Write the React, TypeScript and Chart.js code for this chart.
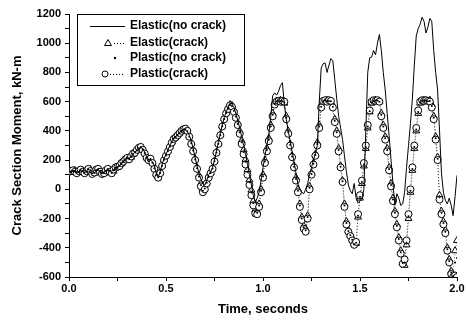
import React, { useEffect, useRef } from "react";
import { Chart, registerables } from "chart.js";

Chart.register(...registerables);

// Sampling step of the time axis (seconds); one value per step, from 0.00 s to 2.00 s
const TIME_STEP = 0.01;

// Elastic (no crack) – solid line, kN-m
const elasticNoCrack = [
  120, 118, 122, 125, 120, 115, 118, 125, 130, 125,
  118, 115, 120, 128, 132, 128, 120, 115, 118, 125,
  130, 128, 125, 130, 140, 150, 160, 175, 190, 200,
  210, 215, 225, 240, 255, 265, 275, 285, 280, 255,
  225, 205, 200, 190, 160, 110, 85, 120, 170, 210,
  240, 270, 300, 330, 350, 360, 375, 390, 405, 410,
  405, 395, 370, 330, 280, 220, 160, 110, 70, 40,
  30, 60, 100, 120, 150, 200, 260, 320, 380, 440,
  490, 530, 560, 590, 585, 560, 520, 470, 420, 360,
  300, 240, 170, 100, 30, -40, -90, -60, -20, 60,
  150, 230, 300, 380, 500, 640, 660, 645, 670, 710,
  730, 580, 480, 400, 330, 260, 190, 110, 40, 0,
  -20, -30, 0, 40, 100, 150, 200, 250, 300, 600,
  830, 860, 865, 800, 850, 895, 880, 750, 620, 500,
  420, 340, 230, 120, 30, -10, -30, 40, -60, -95,
  -80, -60, 0, 400, 800, 900, 905, 950, 920, 1000,
  1060, 950, 800, 680, 520, 370, 200, 40, -110, -30,
  -60, -110, -100, -20, 150, 300, 450, 620, 850, 1050,
  1100, 1130, 1178, 1150, 1070, 1110, 1170, 1150, 950, 800,
  680, 400, 110, -20, -75, -100, -60, -110, -180, -50,
  96,
];

// Elastic (crack) – triangles
const elasticCrack = [
  125, 120, 125, 130, 120, 115, 125, 130, 120, 115,
  130, 135, 115, 110, 125, 135, 130, 115, 110, 120,
  135, 130, 115, 125, 145, 150, 165, 175, 195, 200,
  210, 215, 220, 240, 260, 265, 280, 285, 275, 250,
  220, 205, 205, 185, 150, 105, 85, 115, 165, 205,
  235, 265, 295, 325, 350, 360, 375, 385, 400, 410,
  410, 395, 365, 320, 270, 210, 150, 95, 40, 0,
  10, 50, 90, 115, 145, 195, 255, 315, 375, 435,
  485, 525, 555, 580, 575, 545, 505, 455, 400, 335,
  270, 205, 135, 65, -5, -80, -140, -150, -100, 0,
  100, 200, 280, 350, 440, 520, 590, 605, 600, 610,
  600, 590, 500, 400, 310, 230, 160, 80, 0, -100,
  -190, -250, -270, -180, 20, 110, 180, 240, 320, 440,
  570, 600, 605, 610, 600, 600, 570, 480, 400, 280,
  160, 60, -100, -220, -280, -310, -340, -370, -370, -190,
  -60, 40, 160, 280, 420, 530, 590, 600, 610, 605,
  600, 520, 440, 360, 280, 150, 40, -60, -150, -240,
  -330, -420, -500, -520, -380, -200, -20, 130, 280, 400,
  520, 590, 600, 610, 605, 600, 610, 580, 500, 360,
  220, -40, -150, -220, -280, -400, -480, -560, -590, -420,
  -350,
];

// Plastic (no crack) – small dots
const plasticNoCrack = [
  120, 122, 128, 124, 115, 120, 130, 125, 115, 120,
  135, 130, 110, 112, 130, 138, 125, 110, 112, 125,
  138, 125, 112, 130, 148, 152, 162, 178, 192, 202,
  212, 210, 222, 242, 255, 268, 282, 288, 272, 248,
  218, 202, 208, 182, 145, 102, 82, 112, 162, 202,
  232, 262, 292, 322, 348, 358, 372, 386, 400, 410,
  412, 398, 362, 315, 265, 205, 145, 88, 30, -10,
  5, 45, 85, 112, 142, 192, 252, 312, 372, 432,
  482, 522, 552, 578, 570, 538, 498, 448, 390, 322,
  255, 188, 118, 48, -22, -95, -152, -160, -110, -10,
  90, 190, 270, 340, 430, 510, 585, 602, 602, 605,
  602, 595, 490, 390, 305, 225, 155, 70, -10, -110,
  -200, -260, -280, -190, 10, 105, 175, 235, 310, 430,
  565, 602, 608, 605, 605, 602, 565, 470, 390, 270,
  155, 55, -110, -230, -285, -315, -345, -375, -365, -180,
  -50, 50, 170, 290, 430, 535, 595, 605, 608, 608,
  600, 510, 430, 350, 270, 140, 30, -70, -160, -250,
  -340, -430, -505, -500, -365, -185, -10, 140, 290, 410,
  530, 595, 605, 608, 608, 602, 605, 570, 490, 350,
  210, -55, -160, -230, -290, -410, -490, -570, -595, -500,
  -470,
];

// Plastic (crack) – open circles
const plasticCrack = [
  120, 125, 130, 120, 110, 125, 135, 120, 110, 125,
  140, 125, 105, 115, 135, 140, 120, 105, 110, 130,
  140, 120, 110, 135, 150, 155, 160, 180, 190, 205,
  215, 205, 225, 245, 250, 270, 285, 290, 270, 245,
  215, 200, 210, 180, 140, 100, 80, 110, 160, 200,
  230, 260, 290, 320, 345, 355, 370, 385, 400, 410,
  415, 400, 360, 310, 260, 200, 140, 80, 20, -20,
  0, 40, 80, 110, 140, 190, 250, 310, 370, 430,
  480, 520, 550, 575, 565, 530, 490, 440, 380, 310,
  240, 170, 100, 30, -40, -110, -165, -170, -120, -20,
  80, 180, 260, 330, 420, 500, 580, 600, 605, 600,
  605, 600, 480, 380, 300, 220, 150, 60, -20, -120,
  -210, -270, -290, -200, 0, 100, 170, 230, 300, 420,
  560, 605, 610, 600, 610, 605, 560, 460, 380, 260,
  150, 50, -120, -240, -290, -320, -350, -380, -360, -170,
  -40, 60, 180, 300, 440, 540, 600, 610, 605, 610,
  600, 500, 420, 340, 260, 130, 20, -80, -170, -260,
  -350, -440, -510, -480, -350, -170, 0, 150, 300, 420,
  540, 600, 610, 605, 610, 605, 600, 560, 480, 340,
  200, -70, -170, -240, -300, -420, -500, -580, -600, -590,
  -600,
];

const seriesLabels = ["Elastic(no crack)", "Elastic(crack)", "Plastic(no crack)", "Plastic(crack)"];
const xTickLabels = ["0.0", "0.5", "1.0", "1.5", "2.0"];
const yTickLabels = ["-600", "-400", "-200", "0", "200", "400", "600", "800", "1000", "1200"];

const timeSeconds = elasticNoCrack.map((_, i) => Number((i * TIME_STEP).toFixed(2)));

const FONT = '"Liberation Sans", Arial, Helvetica, sans-serif';

const toPoints = (vals: number[]) => vals.map((v, i) => ({ x: timeSeconds[i], y: v }));

const boxLegend = {
  id: "boxLegend",
  afterDatasetsDraw(chart: any) {
    const { ctx, chartArea } = chart;
    const x0 = chartArea.left + 8;
    const y0 = chartArea.top;
    const w = 167;
    const h = 71;
    ctx.save();
    ctx.fillStyle = "#fff";
    ctx.fillRect(x0, y0, w, h);
    ctx.strokeStyle = "#000";
    ctx.lineWidth = 1;
    ctx.strokeRect(x0 + 0.5, y0 + 0.5, w, h);
    const textX = x0 + 53;
    const rowY = [y0 + 12, y0 + 29, y0 + 44, y0 + 60];
    ctx.font = `bold 12px ${FONT}`;
    ctx.textBaseline = "middle";
    ctx.textAlign = "left";
    ctx.fillStyle = "#000";
    chart.data.datasets.forEach((ds: any, i: number) => {
      const y = rowY[i];
      ctx.strokeStyle = "#000";
      ctx.lineWidth = 1;
      ctx.setLineDash([]);
      if (i === 0) {
        ctx.beginPath();
        ctx.moveTo(x0 + 13, y + 0.5);
        ctx.lineTo(x0 + 48, y + 0.5);
        ctx.stroke();
      } else if (i === 1) {
        const cx = x0 + 31;
        ctx.beginPath();
        ctx.moveTo(cx, y - 3.5);
        ctx.lineTo(cx + 3.5, y + 2.5);
        ctx.lineTo(cx - 3.5, y + 2.5);
        ctx.closePath();
        ctx.fillStyle = "#fff";
        ctx.fill();
        ctx.stroke();
        ctx.setLineDash([1, 2]);
        ctx.beginPath();
        ctx.moveTo(cx + 6, y + 0.5);
        ctx.lineTo(x0 + 48, y + 0.5);
        ctx.stroke();
      } else if (i === 2) {
        ctx.fillStyle = "#000";
        ctx.beginPath();
        ctx.arc(x0 + 38, y, 1.2, 0, Math.PI * 2);
        ctx.fill();
      } else {
        const cx = x0 + 28;
        ctx.beginPath();
        ctx.arc(cx, y, 3, 0, Math.PI * 2);
        ctx.fillStyle = "#fff";
        ctx.fill();
        ctx.stroke();
        ctx.setLineDash([1, 2]);
        ctx.beginPath();
        ctx.moveTo(cx + 5, y + 0.5);
        ctx.lineTo(x0 + 48, y + 0.5);
        ctx.stroke();
      }
      ctx.setLineDash([]);
      ctx.fillStyle = "#000";
      ctx.fillText(ds.label, textX, y);
    });
    ctx.restore();
  },
};

export default function App() {
  const canvasRef = useRef<HTMLCanvasElement | null>(null);

  useEffect(() => {
    if (!canvasRef.current) return;
    const chart = new Chart(canvasRef.current, {
      type: "line",
      data: {
        datasets: [
          {
            label: seriesLabels[0],
            data: toPoints(elasticNoCrack),
            borderColor: "#000",
            borderWidth: 1,
            pointRadius: 0,
            tension: 0,
            order: 0,
          },
          {
            label: seriesLabels[1],
            data: toPoints(elasticCrack),
            borderColor: "#000",
            borderWidth: 0.6,
            borderDash: [1, 2],
            pointStyle: "triangle",
            pointRadius: 4,
            pointBorderWidth: 1,
            pointBorderColor: "#000",
            pointBackgroundColor: "#fff",
            order: 3,
          },
          {
            label: seriesLabels[2],
            data: toPoints(plasticNoCrack),
            showLine: false,
            pointStyle: "circle",
            pointRadius: 1,
            pointBorderWidth: 0,
            pointBackgroundColor: "#000",
            order: 1,
          },
          {
            label: seriesLabels[3],
            data: toPoints(plasticCrack),
            borderColor: "#000",
            borderWidth: 0.6,
            borderDash: [1, 2],
            pointStyle: "circle",
            pointRadius: 3.5,
            pointBorderWidth: 1,
            pointBorderColor: "#000",
            pointBackgroundColor: "#fff",
            order: 2,
          },
        ],
      },
      options: {
        animation: false,
        responsive: false,
        devicePixelRatio: 1,
        layout: { padding: { left: 0, right: 9, top: 14, bottom: 0 } },
        plugins: { legend: { display: false }, tooltip: { enabled: false } },
        scales: {
          x: {
            type: "linear",
            min: 0,
            max: 2,
            afterFit: (s: any) => {
              s.height = 43;
            },
            ticks: {
              stepSize: 0.25,
              autoSkip: false,
              maxRotation: 0,
              padding: 1,
              color: "#000",
              font: { family: FONT, size: 11, weight: "bold" },
              callback: (v: any) => {
                const lab = xTickLabels.find((l) => Math.abs(parseFloat(l) - Number(v)) < 1e-6);
                return lab ?? "";
              },
            },
            grid: { drawOnChartArea: false, drawTicks: true, tickLength: 4, color: "#000" },
            border: { display: true, color: "#000", width: 1 },
            title: {
              display: true,
              text: "Time, seconds",
              color: "#000",
              font: { family: FONT, size: 13, weight: "bold" },
              padding: { top: 0, bottom: 3 },
            },
          },
          y: {
            type: "linear",
            min: -600,
            max: 1200,
            afterFit: (s: any) => {
              s.width = 69;
            },
            ticks: {
              stepSize: 100,
              autoSkip: false,
              padding: 4,
              color: "#000",
              font: { family: FONT, size: 11, weight: "bold" },
              callback: (v: any) => {
                const lab = yTickLabels.find((l) => Number(l) === Number(v));
                return lab ?? "";
              },
            },
            grid: { drawOnChartArea: false, drawTicks: true, tickLength: 4, color: "#000" },
            border: { display: true, color: "#000", width: 1 },
            title: {
              display: true,
              text: "Crack Section Moment, kN-m",
              color: "#000",
              font: { family: FONT, size: 13, weight: "bold" },
              padding: { top: 10, bottom: 0 },
            },
          },
        },
      },
      plugins: [boxLegend],
    });
    return () => chart.destroy();
  }, []);

  return (
    <div style={{ position: "absolute", left: 0, top: 0, width: 466, height: 320 }}>
      <canvas ref={canvasRef} width={466} height={320} style={{ display: "block" }} />
    </div>
  );
}
